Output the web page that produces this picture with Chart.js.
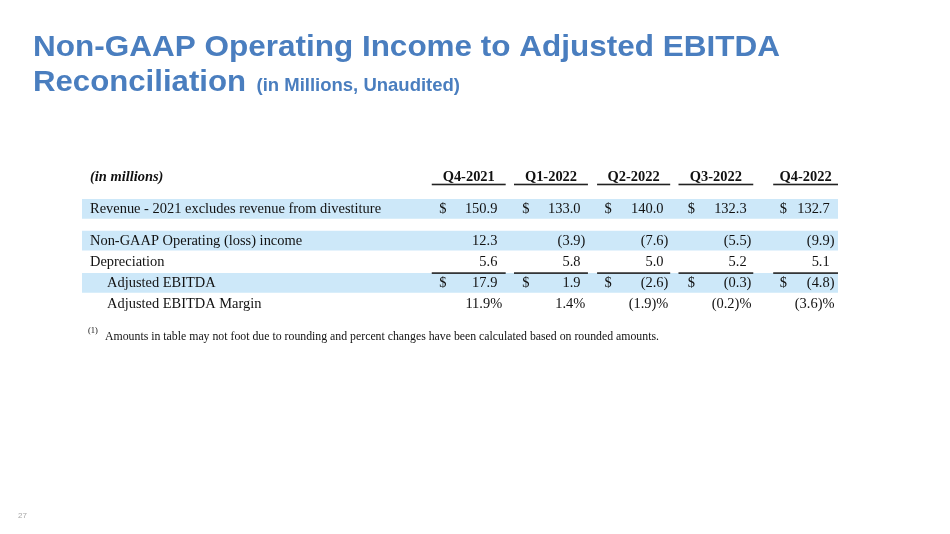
<!DOCTYPE html>
<html><head><meta charset="utf-8">
<script src="https://cdn.jsdelivr.net/npm/chart.js@4.4.1/dist/chart.umd.min.js"></script>
<style>html,body{margin:0;padding:0;background:#fff;overflow:hidden}</style>
</head><body><canvas id="c" width="950" height="534"></canvas>
<script>
// ---- data ----
const titleLine1 = 'Non-GAAP Operating Income to Adjusted EBITDA';
const titleLine2 = 'Reconciliation';
const titleNote = '(in Millions, Unaudited)';
const unitsLabel = '(in millions)';
const quarters = ['Q4-2021', 'Q1-2022', 'Q2-2022', 'Q3-2022', 'Q4-2022'];
const rowLabels = ['Revenue - 2021 excludes revenue from divestiture', 'Non-GAAP Operating (loss) income', 'Depreciation', 'Adjusted EBITDA', 'Adjusted EBITDA Margin'];
const revenue = [150.9, 133.0, 140.0, 132.3, 132.7];
const nonGaapOperatingIncome = [12.3, -3.9, -7.6, -5.5, -9.9];
const depreciation = [5.6, 5.8, 5.0, 5.2, 5.1];
const adjustedEbitda = [17.9, 1.9, -2.6, -0.3, -4.8];
const adjustedEbitdaMargin = [11.9, 1.4, -1.9, -0.2, -3.6];
const footnoteMark = '(1)';
const footnote = 'Amounts in table may not foot due to rounding and percent changes have been calculated based on rounded amounts.';
const pageNumber = '27';

// ---- style / layout ----
const BLUE = '#4A7EBF';
const BAND = '#CDE8F9';
const INK = '#111111';
const RULE = '#222222';
const SERIF = '"Liberation Serif", "Times New Roman", serif';
const SANS = '"Liberation Sans", Arial, sans-serif';
const FS = 14.45;
const X_MIN = -5, X_MAX = 4.1;          // quarter i sits at x = i on the value scale
const SLOT_COUNT = 13;
const rowSlot = [0, 3, 6, 8, 10, 12];   // header, revenue, non-GAAP, depreciation, EBITDA, margin
const dollarOffset = [-0.70, -0.70, -0.71, -0.71, -0.60];
const ruleStart = [-0.79, -0.80, -0.80, -0.82, -0.68];
const ruleEnd = [0.10, 0.09, 0.08, 0.08, 0.10];

const rows = [
  { label: unitsLabel, header: true },
  { label: rowLabels[0], values: revenue, dollar: true, shaded: true },
  { label: rowLabels[1], values: nonGaapOperatingIncome, shaded: true },
  { label: rowLabels[2], values: depreciation },
  { label: rowLabels[3], values: adjustedEbitda, dollar: true, shaded: true, indent: true, topRule: true },
  { label: rowLabels[4], values: adjustedEbitdaMargin, percent: true, indent: true }
];

const slotLabels = Array.from({ length: SLOT_COUNT }, (_, i) => 's' + i);
const bandData = slotLabels.map(() => null);
rows.forEach((r, i) => { if (r.shaded) bandData[rowSlot[i]] = [X_MIN, X_MAX]; });

function fitText(ctx, text, font, x, yb, width) {
  ctx.font = font;
  const w = ctx.measureText(text).width;
  ctx.save();
  ctx.translate(x, yb);
  ctx.scale(width / w, 1);
  ctx.fillText(text, 0, 0);
  ctx.restore();
}

const tablePlugin = {
  id: 'tableText',
  afterDatasetsDraw(chart) {
    const { ctx, scales: { x, y } } = chart;
    ctx.save();
    ctx.fillStyle = INK;
    ctx.textBaseline = 'middle';
    const labelX = x.getPixelForValue(X_MIN) + 8;
    const indentX = labelX + 17;
    const normal = FS + 'px ' + SERIF;
    ctx.font = normal;
    const parenW = ctx.measureText(')').width;

    rows.forEach((r, ri) => {
      const yc = y.getPixelForValue(rowSlot[ri]) + 0.5;
      if (r.header) {
        ctx.font = 'italic bold ' + FS + 'px ' + SERIF;
        ctx.textAlign = 'left';
        ctx.fillText(r.label, labelX, yc);
        ctx.font = 'bold ' + FS + 'px ' + SERIF;
        ctx.textAlign = 'center';
        quarters.forEach((q, qi) => {
          const a = x.getPixelForValue(qi + ruleStart[qi]);
          const b = x.getPixelForValue(qi + ruleEnd[qi]);
          ctx.fillText(q, (a + b) / 2, yc);
          ctx.fillStyle = RULE;
          ctx.fillRect(a, yc + 6, b - a, 1.6);
          ctx.fillStyle = INK;
        });
        return;
      }
      ctx.font = normal;
      ctx.textAlign = 'left';
      ctx.fillText(r.label, r.indent ? indentX : labelX, yc);
      r.values.forEach((v, qi) => {
        const xr = x.getPixelForValue(qi);
        const num = Math.abs(v).toFixed(1);
        if (r.percent) {
          const s = v < 0 ? '(' + num + ')%' : num + '%';
          ctx.textAlign = 'right';
          ctx.fillText(s, xr + parenW, yc);
        } else {
          ctx.textAlign = 'right';
          ctx.fillText(v < 0 ? '(' + num : num, xr, yc);
          if (v < 0) { ctx.textAlign = 'left'; ctx.fillText(')', xr, yc); }
        }
        if (r.dollar) {
          ctx.textAlign = 'left';
          ctx.fillText('$', x.getPixelForValue(qi + dollarOffset[qi]), yc);
        }
        if (r.topRule) {
          const a = x.getPixelForValue(qi + ruleStart[qi]);
          const b = x.getPixelForValue(qi + ruleEnd[qi]);
          ctx.fillStyle = RULE;
          ctx.fillRect(a, y.getPixelForValue(rowSlot[ri]) - 10.5, b - a, 1.6);
          ctx.fillStyle = INK;
        }
      });
    });

    // footnote
    const fy = y.getPixelForValue(SLOT_COUNT - 1) + 33;
    ctx.textAlign = 'left';
    ctx.font = '8.5px ' + SERIF;
    ctx.fillText(footnoteMark, labelX - 2, fy - 6);
    ctx.font = '11.8px ' + SERIF;
    ctx.fillText(footnote, labelX + 15, fy);
    ctx.restore();
  },
  afterDraw(chart) {
    const ctx = chart.ctx;
    ctx.save();
    ctx.fillStyle = BLUE;
    ctx.textBaseline = 'alphabetic';
    ctx.textAlign = 'left';
    fitText(ctx, titleLine1, 'bold 29.5px ' + SANS, 33, 56, 747);
    fitText(ctx, titleLine2, 'bold 29.5px ' + SANS, 33, 91, 213);
    fitText(ctx, titleNote, 'bold 18.5px ' + SANS, 256.5, 91, 203.5);
    ctx.fillStyle = '#A8A8A8';
    ctx.font = '8px ' + SANS;
    ctx.fillText(pageNumber, 18, 518);
    ctx.restore();
  }
};

new Chart(document.getElementById('c'), {
  type: 'bar',
  data: {
    labels: slotLabels,
    datasets: [{ data: bandData, backgroundColor: BAND, barThickness: 19, borderWidth: 0, borderSkipped: false }]
  },
  options: {
    indexAxis: 'y',
    responsive: false,
    animation: false,
    layout: { padding: { left: 82, right: 112, top: 171.9, bottom: 224.8 } },
    scales: {
      x: { type: 'linear', min: X_MIN, max: X_MAX, display: false },
      y: { type: 'category', display: false, offset: true }
    },
    plugins: { legend: { display: false }, tooltip: { enabled: false }, title: { display: false } }
  },
  plugins: [tablePlugin]
});
</script>
</body></html>
